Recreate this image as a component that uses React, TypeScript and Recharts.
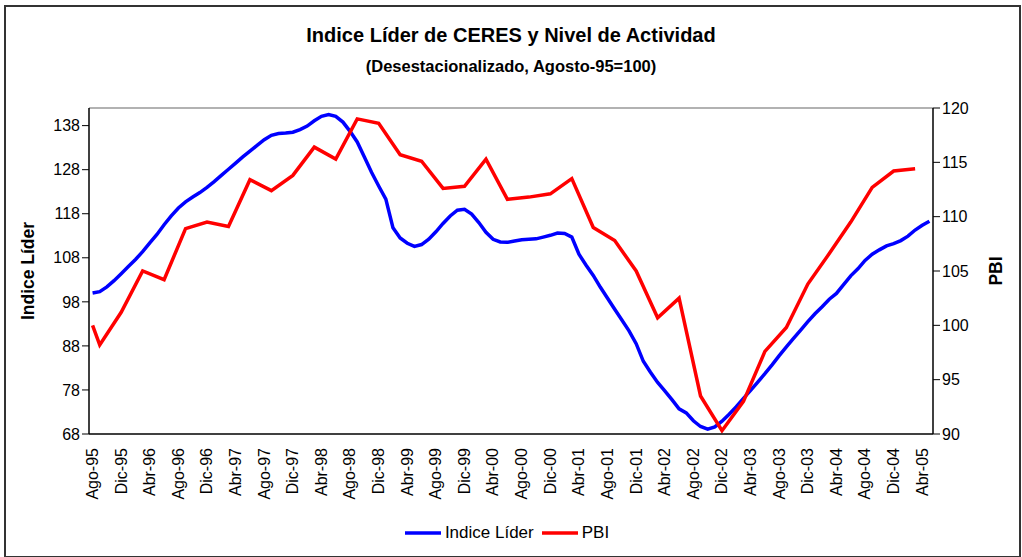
import { LineChart, Line, XAxis, YAxis, ReferenceLine, Legend } from 'recharts'

const meses = ['Ene', 'Feb', 'Mar', 'Abr', 'May', 'Jun', 'Jul', 'Ago', 'Sep', 'Oct', 'Nov', 'Dic']

// monthly labels Ago-95 .. May-05
const months: string[] = []
for (let i = 0; i < 118; i++) {
  const m = (7 + i) % 12
  const y = 95 + Math.floor((7 + i) / 12)
  months.push(`${meses[m]}-${String(y % 100).padStart(2, '0')}`)
}

const indiceLider = [
  100.0, 100.3, 101.4, 102.8, 104.4, 106.0, 107.6, 109.4, 111.4, 113.3,
  115.5, 117.5, 119.3, 120.7, 121.8, 122.8, 124.0, 125.3, 126.7, 128.1,
  129.5, 130.9, 132.2, 133.5, 134.8, 135.8, 136.2, 136.3, 136.5, 137.1,
  137.9, 139.1, 140.1, 140.5, 140.1, 138.8, 136.7, 134.3, 130.9, 127.4,
  124.3, 121.3, 114.8, 112.5, 111.3, 110.6, 111.0, 112.2, 113.9, 115.8,
  117.5, 118.8, 119.0, 117.9, 116.0, 113.8, 112.2, 111.6, 111.5, 111.8,
  112.1, 112.2, 112.3, 112.7, 113.1, 113.6, 113.5, 112.7, 108.8, 106.3,
  104.0, 101.3, 98.8, 96.3, 93.9, 91.4, 88.5, 84.5, 82.0, 79.7,
  77.8, 75.8, 73.7, 72.8, 71.0, 69.7, 69.1, 69.6, 70.9, 72.5,
  74.2, 76.1, 77.9, 79.8, 81.7, 83.7, 85.8, 87.8, 89.7, 91.6,
  93.5, 95.3, 96.9, 98.6, 99.9, 101.9, 103.9, 105.5, 107.4, 108.8,
  109.8, 110.7, 111.2, 111.9, 112.9, 114.3, 115.4, 116.3,
]

// PBI: base Ago-95 then quarterly (Sep-95 .. Mar-05)
const pbiBase = 100
const pbiTrimestral = [
  98.2, 101.2, 105.0, 104.2, 108.9, 109.5, 109.1, 113.4, 112.4, 113.8,
  116.4, 115.3, 119.0, 118.6, 115.7, 115.1, 112.6, 112.8, 115.3, 111.6,
  111.8, 112.1, 113.5, 109.0, 107.8, 105.0, 100.7, 102.5, 93.5, 90.3,
  93.0, 97.6, 99.8, 103.8, 106.6, 109.5, 112.7, 114.2, 114.4,
]

const leftTicks = [68, 78, 88, 98, 108, 118, 128, 138]
const rightTicks = [90, 95, 100, 105, 110, 115, 120]

const data = months.map((mes, i) => {
  let pbi: number | null = null
  if (i === 0) pbi = pbiBase
  else if ((i - 1) % 3 === 0 && (i - 1) / 3 < pbiTrimestral.length) pbi = pbiTrimestral[(i - 1) / 3]
  return { mes, lider: indiceLider[i], pbi }
})

const font = '"Liberation Sans", Arial, sans-serif'

function LegendContent() {
  const items = [
    { name: 'Indice Líder', color: '#0000ff' },
    { name: 'PBI', color: '#ff0000' },
  ]
  return (
    <div style={{ display: 'flex', justifyContent: 'center', fontFamily: font, fontSize: 17, color: '#000' }}>
      {items.map((it) => (
        <div key={it.name} style={{ display: 'flex', alignItems: 'center', marginRight: 8 }}>
          <svg width={36} height={6} style={{ marginRight: 4 }}>
            <line x1={0} y1={3} x2={36} y2={3} stroke={it.color} strokeWidth={3.5} />
          </svg>
          <span>{it.name}</span>
        </div>
      ))}
    </div>
  )
}

export default function App() {
  return (
    <div style={{ position: 'absolute', left: 0, top: 0, width: 1022, height: 557, background: '#fff', fontFamily: font }}>
      <div
        style={{
          position: 'absolute',
          left: 4,
          top: 5,
          width: 1013,
          height: 549,
          border: '2px solid #333',
        }}
      />
      <div style={{ position: 'absolute', left: 0, width: 1022, top: 24, textAlign: 'center', fontSize: 20, fontWeight: 'bold' }}>
        Indice Líder de CERES y Nivel de Actividad
      </div>
      <div style={{ position: 'absolute', left: 0, width: 1022, top: 57, textAlign: 'center', fontSize: 16.5, fontWeight: 'bold' }}>
        (Desestacionalizado, Agosto-95=100)
      </div>
      <div style={{ position: 'absolute', left: 0, top: 0 }}>
        <LineChart width={1022} height={557} data={data} margin={{ top: 108, right: 0, left: 0, bottom: 4 }}>
          <XAxis
            dataKey="mes"
            scale="band"
            interval={3}
            tickLine={false}
            axisLine={{ stroke: '#000', strokeWidth: 1.5 }}
            angle={-90}
            textAnchor="end"
            dy={6}
            dx={-6}
            height={89}
            tick={{ fill: '#000', fontSize: 16, fontFamily: font }}
          />
          <YAxis
            yAxisId="left"
            domain={[68, 142]}
            ticks={leftTicks}
            width={89}
            tickSize={7}
            axisLine={{ stroke: '#000', strokeWidth: 1.5 }}
            tickLine={{ stroke: '#000' }}
            tick={{ fill: '#000', fontSize: 16, fontFamily: font }}
            label={{ value: 'Indice Líder', angle: -90, position: 'insideLeft', dx: 23, fill: '#000', fontSize: 17.5, fontWeight: 'bold', fontFamily: font, style: { textAnchor: 'middle' } }}
          />
          <YAxis
            yAxisId="right"
            orientation="right"
            domain={[90, 120]}
            ticks={rightTicks}
            width={89}
            tickSize={7}
            axisLine={{ stroke: '#000', strokeWidth: 1.5 }}
            tickLine={{ stroke: '#000' }}
            tick={{ fill: '#000', fontSize: 16, fontFamily: font }}
            label={{ value: 'PBI', angle: -90, position: 'insideRight', dx: -21, fill: '#000', fontSize: 17.5, fontWeight: 'bold', fontFamily: font, style: { textAnchor: 'middle' } }}
          />
          <ReferenceLine yAxisId="left" y={142} stroke="#999" strokeWidth={1.5} />
          <Line
            yAxisId="left"
            type="linear"
            dataKey="lider"
            name="Indice Líder"
            stroke="#0000ff"
            strokeWidth={3.5}
            dot={false}
            isAnimationActive={false}
          />
          <Line
            yAxisId="right"
            type="linear"
            dataKey="pbi"
            name="PBI"
            stroke="#ff0000"
            strokeWidth={3.5}
            dot={false}
            connectNulls
            isAnimationActive={false}
          />
          <Legend verticalAlign="bottom" height={30} content={<LegendContent />} />
        </LineChart>
      </div>
    </div>
  )
}
